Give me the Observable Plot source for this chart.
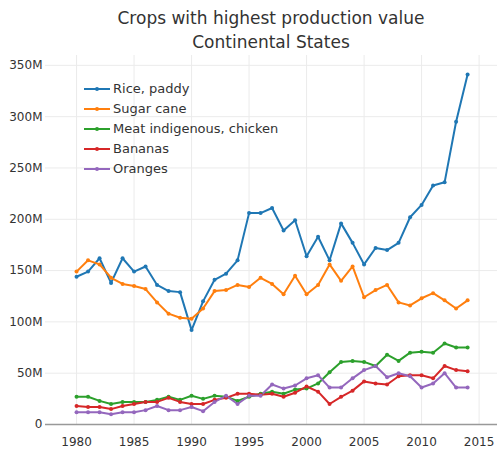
<!DOCTYPE html>
<html>
<head>
<meta charset="utf-8">
<script src="https://cdn.jsdelivr.net/npm/d3@7"></script>
<script src="https://cdn.jsdelivr.net/npm/@observablehq/plot@0.6"></script>
<style>
  html, body { margin: 0; padding: 0; background: #fff; }
  #wrap { position: relative; width: 497px; height: 454px; font-family: "DejaVu Sans", sans-serif; }
  #title { position: absolute; left: 0; top: 6px; width: 542px; text-align: center; font-size: 17px; line-height: 24px; color: #333; }
  #chart { position: absolute; left: 0; top: 55px; }
  #legend { position: absolute; left: 84px; top: 79px; font-size: 13px; color: #333; }
  .item { height: 20px; line-height: 20px; display: flex; align-items: center; }
  .sw { position: relative; width: 26px; height: 20px; margin-right: 3px; }
  .sw .ln { position: absolute; left: 0; right: 0; top: 9px; height: 2px; }
  .sw .dt { position: absolute; left: 11px; top: 8px; width: 4px; height: 4px; border-radius: 2px; }
</style>
</head>
<body>
<div id="wrap">
  <div id="title">Crops with highest production value<br>Continental States</div>
  <div id="chart"></div>
  <div id="legend"></div>
</div>
<script>
const years = d3.range(1980, 2015);
const seriesNames = ["Rice, paddy", "Sugar cane", "Meat indigenous, chicken", "Bananas", "Oranges"];
const colors = ["#1f77b4", "#ff7f0e", "#2ca02c", "#d62728", "#9467bd"];

const rice = [144, 149, 162, 138, 162, 149, 154, 136, 130, 129, 92, 120, 141, 147, 160,
  206, 206, 211, 189, 199, 164, 183, 160, 196, 177, 156, 172, 170, 177, 202,
  214, 233, 236, 295, 341];
const sugarCane = [149, 160, 156, 143, 137, 135, 132, 119, 108, 104, 103, 113, 130, 131, 136,
  134, 143, 137, 127, 145, 127, 136, 156, 140, 154, 124, 131, 136, 119, 116,
  123, 128, 121, 113, 121];
const chicken = [27, 27, 23, 20, 22, 22, 22, 24, 27, 24, 28, 25, 28, 27, 23,
  27, 30, 32, 30, 34, 35, 40, 51, 61, 62, 61, 57, 68, 62, 70,
  71, 70, 79, 75, 75];
const bananas = [18, 17, 17, 15, 18, 20, 22, 22, 26, 22, 20, 20, 24, 26, 30,
  30, 29, 30, 27, 31, 37, 32, 20, 27, 33, 42, 40, 39, 47, 48,
  48, 45, 57, 53, 52];
const oranges = [12, 12, 12, 10, 12, 12, 14, 18, 14, 14, 17, 13, 22, 28, 20,
  28, 28, 39, 35, 38, 45, 48, 36, 36, 45, 53, 57, 46, 50, 47,
  36, 40, 50, 36, 36];

const xTicks = [1980, 1985, 1990, 1995, 2000, 2005, 2010, 2015];
const yTicks = [0, 50, 100, 150, 200, 250, 300, 350];
const yTickLabels = ["0", "50M", "100M", "150M", "200M", "250M", "300M", "350M"];

const allValues = [rice, sugarCane, chicken, bananas, oranges];
const data = [];
allValues.forEach((vals, i) => {
  vals.forEach((v, j) => data.push({ series: seriesNames[i], year: years[j], value: v }));
});

const chart = Plot.plot({
  width: 497,
  height: 399,
  marginLeft: 45,
  marginRight: 0,
  marginTop: 0,
  marginBottom: 30,
  style: { fontFamily: "DejaVu Sans, sans-serif", fontSize: "12px", color: "#333", background: "#fff" },
  x: { domain: [1977.3, 2016.6] },
  y: { domain: [0, 359.6] },
  color: { domain: seriesNames, range: colors },
  marks: [
    Plot.gridX(xTicks, { stroke: "#ebebeb", strokeOpacity: 1 }),
    Plot.gridY(yTicks.filter(d => d > 0), { stroke: "#ebebeb", strokeOpacity: 1 }),
    Plot.ruleY([0], { stroke: "#999", strokeWidth: 1.5 }),
    Plot.axisX({ ticks: xTicks, tickSize: 0, tickPadding: 13, tickFormat: d => String(d), label: null, fontSize: 12 }),
    Plot.axisY({ ticks: yTicks, tickSize: 0, tickPadding: 3, tickFormat: d => yTickLabels[yTicks.indexOf(d)], label: null, fontSize: 12 }),
    Plot.line(data, { x: "year", y: "value", z: "series", stroke: "series", strokeWidth: 2 }),
    Plot.dot(data, { x: "year", y: "value", fill: "series", r: 2 })
  ]
});
document.getElementById("chart").appendChild(chart);

const legend = document.getElementById("legend");
seriesNames.forEach((name, i) => {
  const item = document.createElement("div");
  item.className = "item";
  item.innerHTML = `<span class="sw"><span class="ln" style="background:${colors[i]}"></span><span class="dt" style="background:${colors[i]}"></span></span><span>${name}</span>`;
  legend.appendChild(item);
});
</script>
</body>
</html>
